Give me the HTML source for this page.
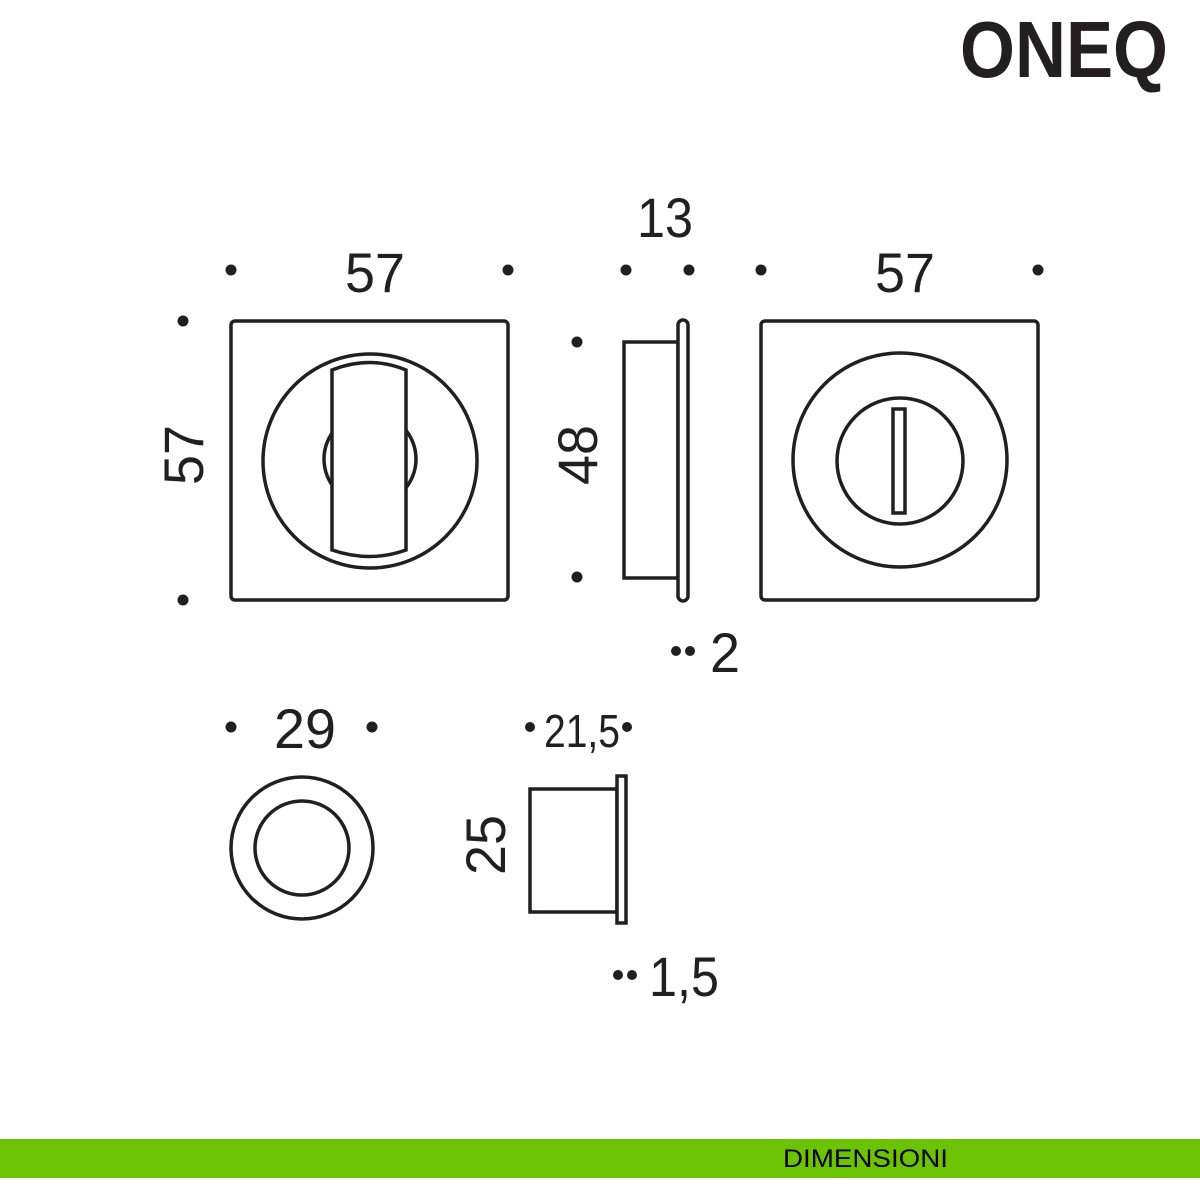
<!DOCTYPE html>
<html><head><meta charset="utf-8"><style>
html,body{margin:0;padding:0;background:#fff;}
svg{display:block;}
text{font-family:"Liberation Sans",sans-serif;fill:#231f20;}
</style></head><body>
<svg width="1200" height="1200" viewBox="0 0 1200 1200" xmlns="http://www.w3.org/2000/svg">
<rect width="1200" height="1200" fill="#fff"/>
<text x="960" y="77" font-size="80" font-weight="bold" textLength="208" lengthAdjust="spacingAndGlyphs">ONEQ</text>

<g fill="#231f20">
<circle cx="231" cy="270" r="5.5"/><circle cx="508" cy="270" r="5.5"/>
<circle cx="626" cy="270" r="5.5"/><circle cx="689" cy="270" r="5.5"/>
<circle cx="761" cy="270" r="5.5"/><circle cx="1038" cy="270" r="5.5"/>
<circle cx="183" cy="321" r="5.5"/><circle cx="183" cy="600" r="5.5"/>
<circle cx="577" cy="342" r="5.5"/><circle cx="577" cy="577" r="5.5"/>
<circle cx="676" cy="651" r="5"/><circle cx="690" cy="651" r="5"/>
<circle cx="231" cy="727" r="5.5"/><circle cx="372" cy="727" r="5.5"/>
<circle cx="530" cy="727" r="5"/><circle cx="627" cy="727" r="5"/>
<circle cx="618" cy="975" r="5"/><circle cx="632" cy="975" r="5"/>
</g>

<g font-size="56">
<text x="375" y="292" text-anchor="middle" textLength="60" lengthAdjust="spacingAndGlyphs">57</text>
<text x="665" y="237" text-anchor="middle" textLength="56" lengthAdjust="spacingAndGlyphs">13</text>
<text x="905" y="292" text-anchor="middle" textLength="60" lengthAdjust="spacingAndGlyphs">57</text>
<text transform="translate(203,455) rotate(-90)" text-anchor="middle" textLength="60" lengthAdjust="spacingAndGlyphs">57</text>
<text transform="translate(597,455) rotate(-90)" text-anchor="middle" textLength="60" lengthAdjust="spacingAndGlyphs">48</text>
<text x="710" y="672" textLength="30" lengthAdjust="spacingAndGlyphs">2</text>
<text x="305" y="748" text-anchor="middle" textLength="62" lengthAdjust="spacingAndGlyphs">29</text>
<text x="505" y="845" transform="rotate(-90 505 845)" text-anchor="middle" textLength="60" lengthAdjust="spacingAndGlyphs">25</text>
<text x="649" y="996" textLength="70" lengthAdjust="spacingAndGlyphs">1,5</text>
</g>
<text x="544" y="747" font-size="46" textLength="76" lengthAdjust="spacingAndGlyphs">21,5</text>

<g fill="none" stroke="#231f20" stroke-width="3.5">
<rect x="231" y="321" width="277" height="279" rx="4"/>
<circle cx="370" cy="461" r="107"/>
<circle cx="370" cy="459" r="46"/>
<path d="M332,370 Q370,355 406,370 L406,550 Q370,563 332,550 Z" fill="#fff"/>

<rect x="624" y="342" width="54" height="236" fill="#fff"/>
<rect x="678" y="320" width="10" height="281" rx="5" fill="#fff"/>

<rect x="761" y="321" width="277" height="279" rx="4"/>
<circle cx="900" cy="460" r="107"/>
<circle cx="900" cy="461" r="63"/>
<rect x="893" y="409" width="12" height="104"/>

<circle cx="302" cy="848" r="71"/>
<circle cx="302" cy="848" r="47"/>

<rect x="530" y="789" width="87" height="123"/>
<rect x="617" y="776" width="9" height="147" fill="#fff"/>
</g>

<rect x="0" y="1139" width="1200" height="39" fill="#6cc304"/>
<text x="783" y="1167" font-size="25" textLength="165" lengthAdjust="spacingAndGlyphs" style="fill:#000">DIMENSIONI</text>
</svg>
</body></html>
